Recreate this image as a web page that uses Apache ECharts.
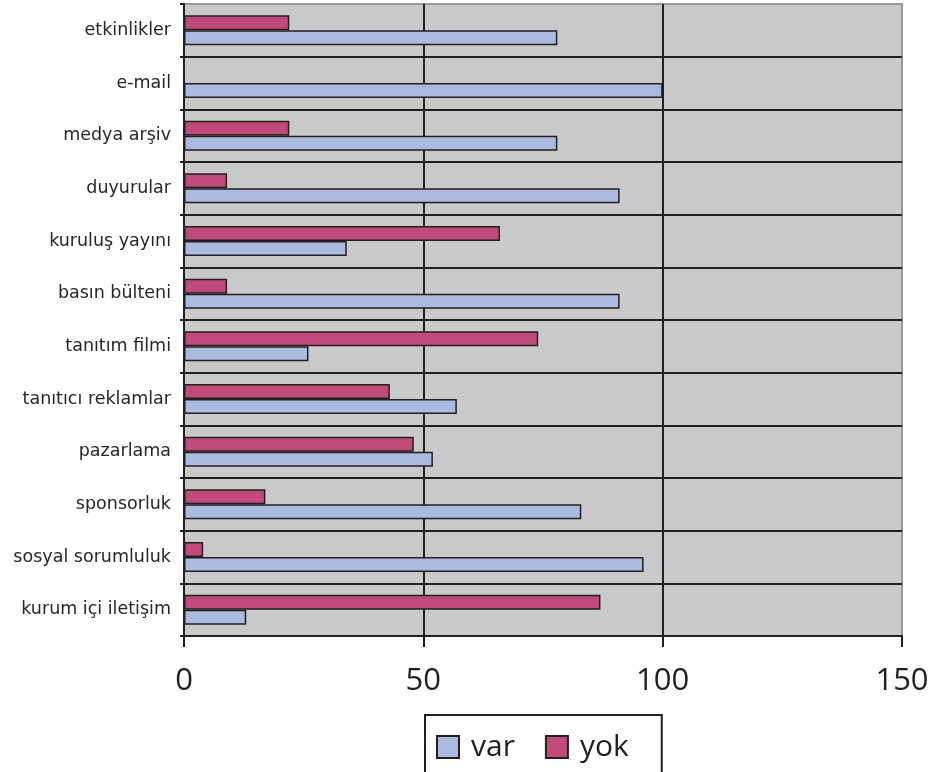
<!DOCTYPE html>
<html>
<head>
<meta charset="utf-8">
<script src="https://cdn.jsdelivr.net/npm/echarts@6/dist/echarts.min.js"></script>
<style>
  html, body { margin: 0; padding: 0; background: #ffffff; }
  #chart { width: 935px; height: 772px; }
</style>
</head>
<body>
<div id="chart"></div>
<script>
// Categories, top to bottom
const categories = [
  'etkinlikler', 'e-mail', 'medya arşiv', 'duyurular', 'kuruluş yayını',
  'basın bülteni', 'tanıtım filmi', 'tanıtıcı reklamlar', 'pazarlama',
  'sponsorluk', 'sosyal sorumluluk', 'kurum içi iletişim'
];
const varValues = [78, 100, 78, 91, 34, 91, 26, 57, 52, 83, 96, 13];
const yokValues = [22, 0, 22, 9, 66, 9, 74, 43, 48, 17, 4, 87];
const xTicks = { min: 0, max: 150, interval: 50 };

const chart = echarts.init(document.getElementById('chart'), null, { renderer: 'canvas' });

const dark = '#231f20';
const font = 'Open Sans';

chart.setOption({
  animation: false,
  grid: {
    left: 184, right: 33, top: 4, bottom: 136,
    show: true,
    backgroundColor: '#c8c9cb',
    borderColor: '#98999b',
    borderWidth: 2
  },
  legend: {
    data: ['var', 'yok'],
    left: 425,
    top: 715,
    padding: [17, 33, 40, 11],
    itemGap: 30,
    itemWidth: 22,
    itemHeight: 22,
    icon: 'rect',
    borderColor: dark,
    borderWidth: 2,
    textStyle: { fontFamily: font, fontSize: 30, color: dark, padding: [0, 0, 0, 7] }
  },
  xAxis: {
    type: 'value',
    min: xTicks.min, max: xTicks.max, interval: xTicks.interval,
    axisLine: { show: true, lineStyle: { color: dark, width: 2 } },
    axisTick: { show: true, length: 11, lineStyle: { color: dark, width: 2 } },
    axisLabel: { fontFamily: font, fontSize: 31, color: dark, margin: 30 },
    splitLine: { show: true, showMinLine: false, showMaxLine: false, lineStyle: { color: dark, width: 2 } }
  },
  yAxis: {
    type: 'category',
    data: categories,
    inverse: true,
    axisLine: { show: true, lineStyle: { color: dark, width: 2 } },
    axisTick: { show: true, length: 4, lineStyle: { color: dark, width: 2 } },
    axisLabel: { fontFamily: 'DejaVu Sans', fontSize: 17.5, color: '#2a2627', margin: 13 },
    splitLine: { show: true, showMinLine: false, showMaxLine: false, lineStyle: { color: dark, width: 2 } }
  },
  series: [
    {
      name: 'yok', type: 'bar', data: yokValues,
      barGap: '0%', barCategoryGap: '43%',
      itemStyle: { color: '#c04b7b', borderColor: dark, borderWidth: 1.5 }
    },
    {
      name: 'var', type: 'bar', data: varValues,
      barGap: '0%', barCategoryGap: '43%',
      itemStyle: { color: '#abbadf', borderColor: dark, borderWidth: 1.5 }
    }
  ]
});
</script>
</body>
</html>
